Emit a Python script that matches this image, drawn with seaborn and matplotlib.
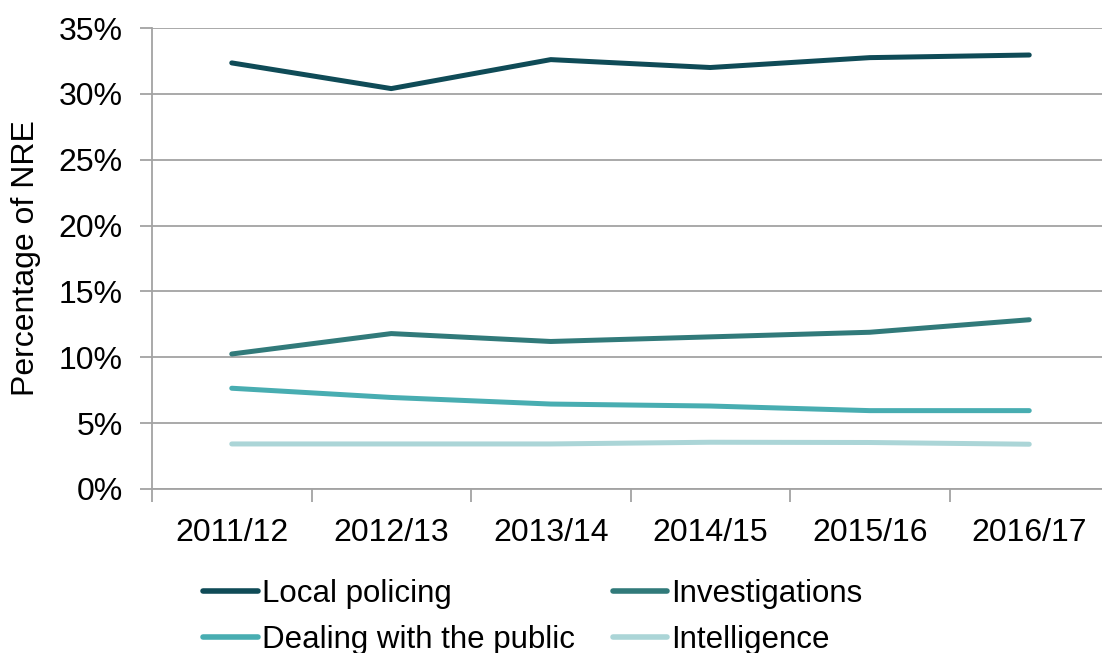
import matplotlib
matplotlib.use("Agg")
import matplotlib.pyplot as plt
import matplotlib.ticker as mticker
import seaborn as sns
import pandas as pd
import numpy as np

years = ["2011/12", "2012/13", "2013/14", "2014/15", "2015/16", "2016/17"]
local_policing = [32.35, 30.4, 32.6, 32.0, 32.75, 32.95]
investigations = [10.25, 11.8, 11.2, 11.55, 11.9, 12.85]
dealing_with_public = [7.65, 6.95, 6.45, 6.3, 5.95, 5.95]
intelligence = [3.42, 3.42, 3.42, 3.55, 3.53, 3.4]

series_names = ["Local policing", "Investigations", "Dealing with the public", "Intelligence"]
series_values = [local_policing, investigations, dealing_with_public, intelligence]
colors = ["#0f4b57", "#317a7a", "#48adb1", "#abd5d7"]

df = pd.DataFrame(
    [(yr, name, v) for name, vals in zip(series_names, series_values) for yr, v in zip(years, vals)],
    columns=["Year", "Function", "Share"],
)

sns.set_theme(style="white")
plt.rcParams["font.family"] = ["Liberation Sans", "DejaVu Sans"]
plt.rcParams["text.color"] = "black"

fig = plt.figure(figsize=(11.02, 6.53), dpi=100)
ax = fig.add_axes([152 / 1102, 1 - 489 / 653, (1109 - 152) / 1102, (489 - 28) / 653])

sns.lineplot(
    data=df, x="Year", y="Share", hue="Function", hue_order=series_names,
    palette=colors, linewidth=3.6, ax=ax, sort=False, legend=True,
)
for line in ax.get_lines():
    line.set_solid_capstyle("round")

ax.set_xlim(-0.5, len(years) - 0.5)
ax.set_ylim(0, 35)
ax.yaxis.set_major_locator(mticker.MultipleLocator(5))
ax.yaxis.set_major_formatter(mticker.FuncFormatter(lambda v, _: f"{v:.0f}%"))
ax.grid(axis="y", color="#a3a3a3", linewidth=1.3)
ax.set_axisbelow(True)

ax.set_xticks(range(len(years)))
ax.set_xticklabels(years)
ax.xaxis.set_minor_locator(mticker.FixedLocator(np.arange(-0.5, len(years), 1.0)))
ax.tick_params(axis="x", which="major", length=0, labelsize=23, colors="black", pad=21)
ax.tick_params(axis="x", which="minor", length=9, width=1.3, color="#a3a3a3", direction="out", bottom=True)
ax.tick_params(axis="y", which="major", length=9, width=1.3, color="#a3a3a3", direction="out",
               left=True, labelsize=23, labelcolor="black", pad=12)

for side in ["top", "right"]:
    ax.spines[side].set_visible(False)
for side in ["left", "bottom"]:
    ax.spines[side].set_color("#a3a3a3")
    ax.spines[side].set_linewidth(1.3)

ax.set_xlabel("")
ax.set_ylabel("Percentage of NRE", fontsize=23, color="black", labelpad=13)

# Legend fills column-wise, so order entries to read row by row
handles, labels = ax.get_legend_handles_labels()
lookup = dict(zip(labels, handles))
order = ["Local policing", "Dealing with the public", "Investigations", "Intelligence"]
ax.legend_.remove()
leg = fig.legend(
    [lookup[n] for n in order], order, ncol=2, frameon=False, fontsize=22.5,
    loc="upper left", bbox_to_anchor=(203 / 1102, 1 - 579 / 653),
    handlelength=1.75, handletextpad=0.14, columnspacing=1.2,
    labelspacing=0.5, borderaxespad=0, borderpad=0,
)
for h in leg.legend_handles:
    h.set_linewidth(4)
for t in leg.get_texts():
    t.set_color("black")

fig.savefig("out.png", dpi=100)
